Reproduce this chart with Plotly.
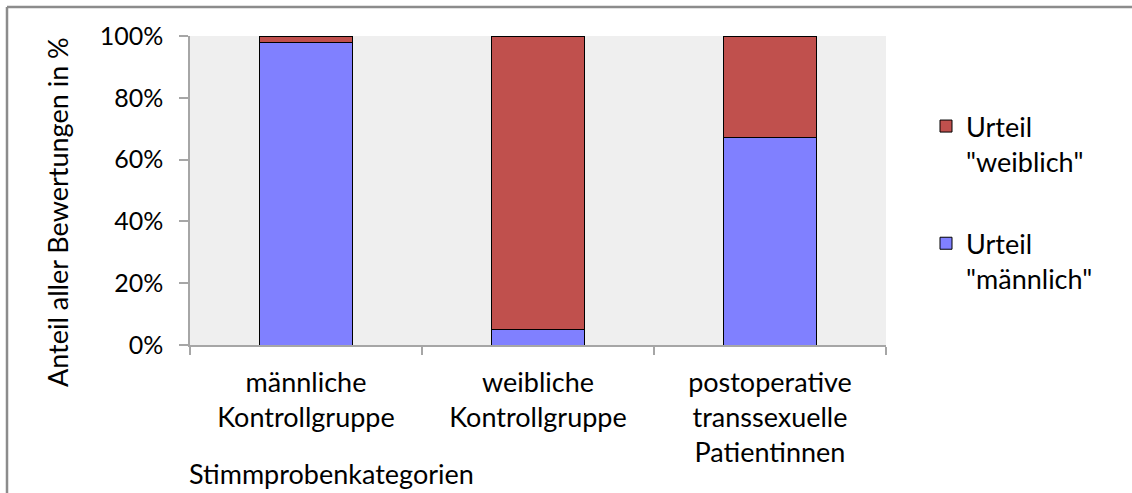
import plotly.graph_objects as go

# Stimmprobenkategorien and share of judgements (percent)
categories = ["männliche<br>Kontrollgruppe", "weibliche<br>Kontrollgruppe",
              "postoperative<br>transsexuelle<br>Patientinnen"]
urteil_maennlich = [98, 5, 67]
urteil_weiblich = [2, 95, 33]

y_ticks = [0, 20, 40, 60, 80, 100]
y_tick_labels = ["0%", "20%", "40%", "60%", "80%", "100%"]

W, H = 1132, 493
L, R, T, B = 190, 246, 36, 148
FONT = "Lato"
FS = 27


def px_x(x):
    return (x - L) / (W - L - R)


def px_y(y):
    return (H - B - y) / (H - T - B)


fig = go.Figure()
fig.add_trace(go.Bar(
    x=categories, y=urteil_maennlich, name='Urteil<br>"männlich"',
    marker=dict(color="#8080FF", line=dict(color="#000000", width=1)),
    legendgroup="m", legendrank=2,
))
fig.add_trace(go.Bar(
    x=categories, y=urteil_weiblich, name='Urteil<br>"weiblich"',
    marker=dict(color="#C0504D", line=dict(color="#000000", width=1)),
    legendgroup="w", legendrank=1,
))

fig.update_layout(
    width=W, height=H,
    margin=dict(l=L, r=R, t=T, b=B, pad=0),
    barmode="stack", bargap=0.6,
    paper_bgcolor="#FFFFFF", plot_bgcolor="#EFEFEF",
    font=dict(family=FONT, size=FS, color="#000000"),
    showlegend=True,
    legend=dict(
        x=px_x(926), y=px_y(102), xanchor="left", yanchor="top",
        traceorder="grouped", valign="top", tracegroupgap=44,
        bgcolor="rgba(0,0,0,0)", font=dict(family=FONT, size=FS),
    ),
    xaxis=dict(
        type="category", tickson="boundaries", ticks="outside", ticklen=8,
        tickcolor="#A6A6A6", tickwidth=1.5, ticklabelstandoff=13,
        showline=True, linecolor="#A6A6A6", linewidth=1.5,
        showgrid=False, zeroline=False,
        tickfont=dict(family=FONT, size=FS),
    ),
    yaxis=dict(
        range=[0, 100], tickvals=y_ticks, ticktext=y_tick_labels,
        ticks="outside", ticklen=9, tickcolor="#A6A6A6", tickwidth=1.5,
        ticklabelstandoff=11,
        showline=True, linecolor="#A6A6A6", linewidth=1.5,
        showgrid=False, zeroline=False,
        tickfont=dict(family=FONT, size=25),
    ),
    annotations=[
        dict(text="Anteil aller Bewertungen in %", textangle=-90,
             x=px_x(57), y=px_y(212), xref="paper", yref="paper",
             xanchor="center", yanchor="middle", showarrow=False,
             font=dict(family=FONT, size=FS)),
        dict(text="Stimmprobenkategorien",
             x=px_x(187), y=px_y(473), xref="paper", yref="paper",
             xanchor="left", yanchor="middle", showarrow=False,
             font=dict(family=FONT, size=FS)),
    ],
    shapes=[
        dict(type="line", xref="paper", yref="paper",
             x0=px_x(7), x1=px_x(W + 5), y0=px_y(7), y1=px_y(7),
             line=dict(color="#8C8C8C", width=2.5)),
        dict(type="line", xref="paper", yref="paper",
             x0=px_x(7), x1=px_x(7), y0=px_y(7), y1=px_y(H + 5),
             line=dict(color="#8C8C8C", width=2.5)),
    ],
)

fig.write_html("out.html")
